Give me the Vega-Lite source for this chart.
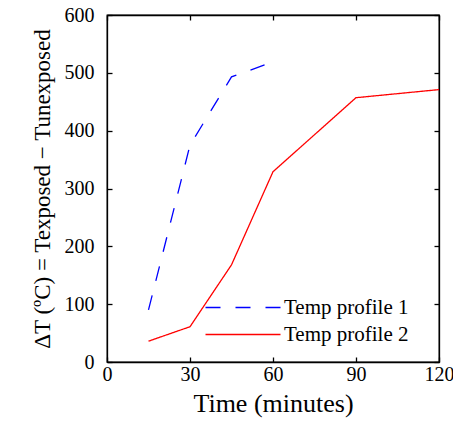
{
  "$schema": "https://vega.github.io/schema/vega-lite/v6.json",
  "width": 332,
  "height": 347,
  "autosize": {"type": "none"},
  "padding": {"left": 107, "top": 15, "right": 14, "bottom": 65},
  "background": "white",
  "config": {
    "font": "Liberation Serif",
    "view": {"stroke": "black", "strokeWidth": 1.3},
    "axis": {
      "grid": false,
      "domainColor": "black",
      "domainWidth": 1.3,
      "tickColor": "black",
      "tickWidth": 1.3,
      "tickSize": -5,
      "labelFlush": false,
      "labelColor": "black",
      "titleColor": "black",
      "labelFont": "Liberation Serif",
      "titleFont": "Liberation Serif",
      "labelFontSize": 20,
      "titleFontSize": 26,
      "titleFontWeight": "normal"
    },
    "legend": {
      "labelFont": "Liberation Serif",
      "labelFontSize": 21,
      "labelColor": "black"
    }
  },
  "data": {
    "values": [
      {"time": 15, "dT": 90, "series": "Temp profile 1"},
      {"time": 30, "dT": 375, "series": "Temp profile 1"},
      {"time": 45, "dT": 493, "series": "Temp profile 1"},
      {"time": 60, "dT": 519, "series": "Temp profile 1"},
      {"time": 15, "dT": 36, "series": "Temp profile 2"},
      {"time": 30, "dT": 61, "series": "Temp profile 2"},
      {"time": 45, "dT": 168, "series": "Temp profile 2"},
      {"time": 60, "dT": 329, "series": "Temp profile 2"},
      {"time": 90, "dT": 457, "series": "Temp profile 2"},
      {"time": 120, "dT": 471, "series": "Temp profile 2"}
    ]
  },
  "layer": [
    {
      "mark": {"type": "line", "strokeWidth": 1.3},
      "encoding": {
        "x": {
          "field": "time",
          "type": "quantitative",
          "scale": {"domain": [0, 120], "nice": false},
          "axis": {"values": [0, 30, 60, 90, 120], "title": "Time (minutes)", "labelPadding": 7, "titlePadding": 6}
        },
        "y": {
          "field": "dT",
          "type": "quantitative",
          "scale": {"domain": [0, 600], "nice": false},
          "axis": {"values": [0, 100, 200, 300, 400, 500, 600], "title": "ΔT (ºC) = Texposed − Tunexposed", "titleFontSize": 23, "labelPadding": 18, "titlePadding": 10}
        },
        "color": {
          "field": "series",
          "type": "nominal",
          "scale": {"domain": ["Temp profile 1", "Temp profile 2"], "range": ["#0000ff", "#ff0000"]},
          "legend": {"title": null, "orient": "none", "legendX": 118, "legendY": 282, "symbolType": "M-4,0H6", "symbolSize": 225, "symbolStrokeWidth": 1.3, "labelOffset": 38, "padding": 0, "rowPadding": 5}
        },
        "strokeDash": {
          "field": "series",
          "type": "nominal",
          "scale": {"domain": ["Temp profile 1", "Temp profile 2"], "range": [[15, 15], [1, 0]]},
          "legend": {"title": null, "orient": "none", "legendX": 118, "legendY": 282, "symbolType": "M-4,0H6", "symbolSize": 225, "symbolStrokeWidth": 1.3, "labelOffset": 38, "padding": 0, "rowPadding": 5}
        }
      }
    },
    {
      "mark": {"type": "line", "opacity": 0},
      "encoding": {
        "x": {
          "field": "time",
          "type": "quantitative",
          "axis": {"orient": "top", "values": [0, 30, 60, 90, 120], "labels": false, "title": null}
        },
        "y": {
          "field": "dT",
          "type": "quantitative",
          "axis": {"orient": "right", "values": [0, 100, 200, 300, 400, 500, 600], "labels": false, "title": null}
        }
      }
    }
  ],
  "resolve": {"axis": {"x": "independent", "y": "independent"}}
}
